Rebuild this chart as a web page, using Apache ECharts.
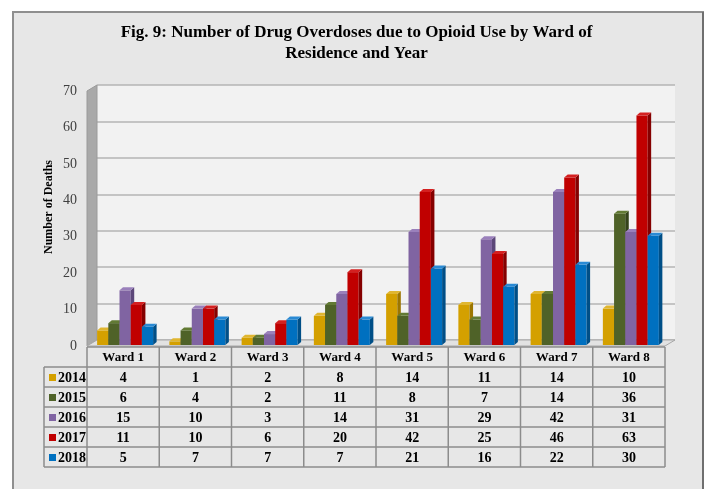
<!DOCTYPE html>
<html>
<head>
<meta charset="utf-8">
<script src="https://cdn.jsdelivr.net/npm/echarts@6/dist/echarts.min.js"></script>
<style>
  html, body { margin: 0; padding: 0; background: #fff; }
  #chart { width: 713px; height: 489px; }
</style>
</head>
<body>
<div id="chart"></div>
<script>
// data
const wards = ['Ward 1', 'Ward 2', 'Ward 3', 'Ward 4', 'Ward 5', 'Ward 6', 'Ward 7', 'Ward 8'];
const years = ['2014', '2015', '2016', '2017', '2018'];
const y2014 = [4, 1, 2, 8, 14, 11, 14, 10];
const y2015 = [6, 4, 2, 11, 8, 7, 14, 36];
const y2016 = [15, 10, 3, 14, 31, 29, 42, 31];
const y2017 = [11, 10, 6, 20, 42, 25, 46, 63];
const y2018 = [5, 7, 7, 7, 21, 16, 22, 30];
const yTicks = [0, 10, 20, 30, 40, 50, 60, 70];

const values = [y2014, y2015, y2016, y2017, y2018];
const fronts = ['#d4a000', '#4f6228', '#8064a2', '#c00000', '#0070c0'];
const sides  = ['#9c7600', '#34421a', '#5c4779', '#850000', '#004f87'];
const tops   = ['#e0b630', '#627a34', '#9a80bb', '#d42020', '#2a8ad4'];

// layout of the front plane
const L = 87, R = 665, T = 91, B = 346, DX = 10, DY = -6;
const font = 'Liberation Serif';

let chart = echarts.init(document.getElementById('chart'));

function renderBar(si) {
    return function (params, api) {
        let cat = api.value(0), v = api.value(1);
        let base = api.coord([cat, 0]);
        let top = api.coord([cat, v]);
        let bw = api.size([1, 0])[0];
        let w = bw * 0.155;
        let x0 = base[0] - bw * 0.36 + si * w;
        let y0 = base[1] - 1, y1 = top[1] - 1;
        let dx = 3.5, dy = -3;
        return {
            type: 'group',
            children: [
                { type: 'rect', shape: { x: x0, y: y1, width: w, height: y0 - y1 }, style: { fill: fronts[si] } },
                { type: 'polygon', shape: { points: [[x0 + w, y1], [x0 + w + dx, y1 + dy], [x0 + w + dx, y0 + dy], [x0 + w, y0]] }, style: { fill: sides[si] } },
                { type: 'polygon', shape: { points: [[x0, y1], [x0 + dx, y1 + dy], [x0 + w + dx, y1 + dy], [x0 + w, y1]] }, style: { fill: tops[si] } }
            ]
        };
    };
}

// data table drawn as text
let graphics = [];
// frame
graphics.push({ type: 'rect', z: -100, shape: { x: 13, y: 12, width: 690, height: 490 }, style: { fill: '#e7e7e7', stroke: '#8f8f8f', lineWidth: 2 } });
graphics.push({ type: 'line', z: -99, shape: { x1: 703, y1: 12, x2: 703, y2: 489 }, style: { stroke: '#6f6f6f', lineWidth: 2 } });
// back wall
graphics.push({ type: 'rect', z: -90, shape: { x: L + DX, y: T + DY, width: R - L, height: B - T }, style: { fill: '#f2f2f2' } });
// left side wall
graphics.push({ type: 'polygon', z: 5, shape: { points: [[L, T], [L + DX, T + DY], [L + DX, B + DY], [L, B]] }, style: { fill: '#a9a9a9', stroke: '#9a9a9a', lineWidth: 1 } });
// floor
graphics.push({ type: 'polygon', z: 5, shape: { points: [[L, B], [L + DX, B + DY], [R + DX, B + DY], [R, B]] }, style: { fill: '#e2e2e2', stroke: '#a8a8a8', lineWidth: 1 } });

const colW = (R - L) / wards.length;
const rowH = 20, tTop = 347, legL = 44;
const lineStyle = { stroke: '#8c8c8c', lineWidth: 1.5 };
// horizontal lines
for (let r = 0; r <= years.length + 1; r++) {
    let y = tTop + r * rowH;
    graphics.push({ type: 'line', z: 6, shape: { x1: r < 1 ? L : legL, y1: y, x2: R, y2: y }, style: lineStyle });
}
// vertical lines
for (let c = 0; c <= wards.length; c++) {
    let x = L + c * colW;
    graphics.push({ type: 'line', z: 6, shape: { x1: x, y1: tTop, x2: x, y2: tTop + rowH * (years.length + 1) }, style: lineStyle });
}
graphics.push({ type: 'line', z: 6, shape: { x1: legL, y1: tTop + rowH, x2: legL, y2: tTop + rowH * (years.length + 1) }, style: lineStyle });
// header
wards.forEach((w, c) => {
    graphics.push({ type: 'text', z: 7, x: L + (c + 0.5) * colW, y: tTop + rowH / 2 + 1,
        style: { text: w, font: 'bold 13px "' + font + '"', fill: '#000', align: 'center', verticalAlign: 'middle' } });
});
// rows
years.forEach((yr, r) => {
    let cy = tTop + (r + 1.5) * rowH + 1;
    graphics.push({ type: 'rect', z: 7, shape: { x: legL + 5, y: cy - 4, width: 7, height: 7 }, style: { fill: fronts[r] } });
    graphics.push({ type: 'text', z: 7, x: legL + 14, y: cy,
        style: { text: yr, font: 'bold 14px "' + font + '"', fill: '#000', align: 'left', verticalAlign: 'middle' } });
    values[r].forEach((v, c) => {
        graphics.push({ type: 'text', z: 7, x: L + (c + 0.5) * colW, y: cy,
            style: { text: String(v), font: 'bold 14px "' + font + '"', fill: '#000', align: 'center', verticalAlign: 'middle' } });
    });
});
// axis title
graphics.push({ type: 'text', z: 7, x: 49, y: 207, rotation: Math.PI / 2,
    style: { text: 'Number of Deaths', font: 'bold 12px "' + font + '"', fill: '#000', align: 'center', verticalAlign: 'middle' } });

let option = {
    backgroundColor: '#ffffff',
    animation: false,
    title: {
        text: 'Fig. 9: Number of Drug Overdoses due to Opioid Use by Ward of\nResidence and Year',
        left: 'center',
        top: 17,
        textStyle: { fontFamily: font, fontWeight: 'bold', fontSize: 17, lineHeight: 21, color: '#000' }
    },
    grid: [
        { left: L, width: R - L, top: T, height: B - T },
        { left: L + DX, width: R - L, top: T + DY, height: B - T }
    ],
    xAxis: [
        { type: 'category', gridIndex: 0, data: wards, axisLine: { show: false }, axisTick: { show: false }, axisLabel: { show: false } },
        { type: 'category', gridIndex: 1, data: wards, show: false }
    ],
    yAxis: [
        {
            type: 'value', gridIndex: 0, min: yTicks[0], max: yTicks[yTicks.length - 1], interval: 10,
            axisLine: { show: false }, axisTick: { show: false }, splitLine: { show: false },
            axisLabel: { margin: 10, padding: [5, 0, 0, 0], fontFamily: font, fontSize: 14, color: '#404040' }
        },
        {
            type: 'value', gridIndex: 1, min: yTicks[0], max: yTicks[yTicks.length - 1], interval: 10,
            axisLine: { show: false }, axisTick: { show: false }, axisLabel: { show: false },
            splitLine: { show: true, lineStyle: { color: '#b4b4b4', width: 1.5 } }
        }
    ],
    graphic: graphics,
    series: years.map((yr, si) => ({
        name: yr,
        type: 'custom',
        xAxisIndex: 0,
        yAxisIndex: 0,
        z: 10,
        renderItem: renderBar(si),
        data: values[si].map((v, i) => [i, v])
    }))
};
chart.setOption(option);
</script>
</body>
</html>
